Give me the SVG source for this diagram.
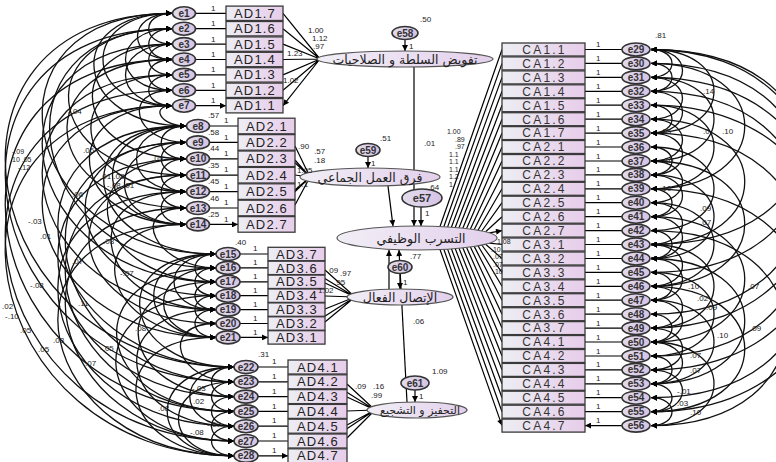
<svg xmlns="http://www.w3.org/2000/svg" width="776" height="462" viewBox="0 0 776 462">
<defs>
<linearGradient id="gb" x1="0" y1="0" x2="1" y2="0"><stop offset="0" stop-color="#ededf3"/><stop offset="1" stop-color="#e7cdea"/></linearGradient>
<linearGradient id="gl" x1="0" y1="0" x2="1" y2="0"><stop offset="0" stop-color="#f1eef6"/><stop offset="1" stop-color="#e3d0ec"/></linearGradient>
<linearGradient id="ge" x1="0" y1="0" x2="1" y2="0"><stop offset="0" stop-color="#e2dcec"/><stop offset="1" stop-color="#d6c3e4"/></linearGradient>
<marker id="ah" viewBox="0 0 10 10" refX="10" refY="5" markerWidth="9" markerHeight="6" markerUnits="userSpaceOnUse" orient="auto"><path d="M0,0 L10,5 L0,10 z" fill="#000"/></marker>
<marker id="ahs" viewBox="0 0 10 10" refX="10" refY="5" markerWidth="9" markerHeight="6" markerUnits="userSpaceOnUse" orient="auto-start-reverse"><path d="M0,0 L10,5 L0,10 z" fill="#000"/></marker>
<style>
.box{fill:url(#gb);stroke:#3a3a3a;stroke-width:1.3}
.bt{font-family:"Liberation Sans",Arial,sans-serif;font-size:13px;fill:#222;text-anchor:middle;letter-spacing:1.2px}
.ct{font-family:"Liberation Sans",Arial,sans-serif;font-size:12px;fill:#333;text-anchor:middle;letter-spacing:2.2px}
.err{fill:url(#ge);stroke:#333;stroke-width:1.6}
.et{font-family:"Liberation Sans",Arial,sans-serif;font-size:10px;font-weight:bold;fill:#333;text-anchor:middle}
.lat{fill:url(#gl);stroke:#555;stroke-width:1.2}
.lt{font-family:"DejaVu Sans",sans-serif;font-size:12.5px;fill:#222;text-anchor:middle}
.ln{stroke:#000;stroke-width:1.2;fill:none;marker-end:url(#ah)}
.arc{stroke:#111;stroke-width:1.3;fill:none;marker-start:url(#ahs);marker-end:url(#ah)}
.n{font-family:"Liberation Sans",Arial,sans-serif;font-size:8px;fill:#222}
.s{font-size:7px}
</style>
</defs>
<rect width="776" height="462" fill="#fff"/>
<g id="connectors">
<g id="left-arcs">
<path class="arc" d="M172 13.3C141 13.3 141 44.1 172 44.1"/>
<path class="arc" d="M172 28.7C141 28.7 141 59.5 172 59.5"/>
<path class="arc" d="M172 44.1C141 44.1 141 74.9 172 74.9"/>
<path class="arc" d="M172 59.5C141 59.5 141 90.3 172 90.3"/>
<path class="arc" d="M172 74.9C141 74.9 141 105.7 172 105.7"/>
<path class="arc" d="M172 13.3C126 13.3 126 59.5 172 59.5"/>
<path class="arc" d="M172 28.7C110 28.7 110 90.3 172 90.3"/>
<path class="arc" d="M172 13.3C80 13.3 80 105.7 172 105.7"/>
<path class="arc" d="M172 44.1C110 44.1 110 105.7 172 105.7"/>
<path class="arc" d="M186 126C153 126 153 158.8 186 158.8"/>
<path class="arc" d="M186 142.4C153 142.4 153 175.2 186 175.2"/>
<path class="arc" d="M186 158.8C153 158.8 153 191.6 186 191.6"/>
<path class="arc" d="M186 175.2C153 175.2 153 208 186 208"/>
<path class="arc" d="M186 191.6C153 191.6 153 224.4 186 224.4"/>
<path class="arc" d="M186 126C120 126 120 191.6 186 191.6"/>
<path class="arc" d="M186 142.4C104 142.4 104 224.4 186 224.4"/>
<path class="arc" d="M186 126C88 126 88 224.4 186 224.4"/>
<path class="arc" d="M216 254C188 254 188 281.8 216 281.8"/>
<path class="arc" d="M216 267.9C188 267.9 188 295.7 216 295.7"/>
<path class="arc" d="M216 281.8C188 281.8 188 309.6 216 309.6"/>
<path class="arc" d="M216 295.7C188 295.7 188 323.5 216 323.5"/>
<path class="arc" d="M216 309.6C188 309.6 188 337.4 216 337.4"/>
<path class="arc" d="M216 254C160 254 160 309.6 216 309.6"/>
<path class="arc" d="M216 267.9C146 267.9 146 337.4 216 337.4"/>
<path class="arc" d="M216 254C133 254 133 337.4 216 337.4"/>
<path class="arc" d="M234 367C204 367 204 396.6 234 396.6"/>
<path class="arc" d="M234 381.8C204 381.8 204 411.4 234 411.4"/>
<path class="arc" d="M234 396.6C204 396.6 204 426.2 234 426.2"/>
<path class="arc" d="M234 411.4C204 411.4 204 441 234 441"/>
<path class="arc" d="M234 426.2C204 426.2 204 455.8 234 455.8"/>
<path class="arc" d="M234 367C175 367 175 426.2 234 426.2"/>
<path class="arc" d="M234 381.8C160 381.8 160 455.8 234 455.8"/>
<path class="arc" d="M234 367C145 367 145 455.8 234 455.8"/>
<path class="arc" d="M172 13.3C59 13.3 73 126 186 126"/>
<path class="arc" d="M172 44.1C57 44.1 71 158.8 186 158.8"/>
<path class="arc" d="M172 74.9C55 74.9 69 191.6 186 191.6"/>
<path class="arc" d="M172 105.7C53 105.7 67 224.4 186 224.4"/>
<path class="arc" d="M172 28.7C25 28.7 39 175.2 186 175.2"/>
<path class="arc" d="M172 59.5C23 59.5 37 208 186 208"/>
<path class="arc" d="M172 90.3C120 90.3 134 142.4 186 142.4"/>
<path class="arc" d="M172 105.7C150 105.7 160 126 186 126"/>
<path class="arc" d="M186 126C58 126 88 254 216 254"/>
<path class="arc" d="M186 158.8C63 158.8 93 281.8 216 281.8"/>
<path class="arc" d="M186 191.6C68 191.6 98 309.6 216 309.6"/>
<path class="arc" d="M186 224.4C73 224.4 103 337.4 216 337.4"/>
<path class="arc" d="M186 142.4C33 142.4 63 295.7 216 295.7"/>
<path class="arc" d="M186 175.2C38 175.2 68 323.5 216 323.5"/>
<path class="arc" d="M186 208C126 208 156 267.9 216 267.9"/>
<path class="arc" d="M216 254C103 254 121 367 234 367"/>
<path class="arc" d="M216 281.8C101 281.8 119 396.6 234 396.6"/>
<path class="arc" d="M216 309.6C99 309.6 117 426.2 234 426.2"/>
<path class="arc" d="M216 337.4C98 337.4 116 455.8 234 455.8"/>
<path class="arc" d="M216 267.9C72 267.9 90 411.4 234 411.4"/>
<path class="arc" d="M216 295.7C71 295.7 89 441 234 441"/>
<path class="arc" d="M216 323.5C158 323.5 176 381.8 234 381.8"/>
<path class="arc" d="M172 13.3C-28 13.3 16 254 216 254"/>
<path class="arc" d="M172 44.1C-28 44.1 16 281.8 216 281.8"/>
<path class="arc" d="M172 74.9C-28 74.9 16 309.6 216 309.6"/>
<path class="arc" d="M172 105.7C-28 105.7 16 337.4 216 337.4"/>
<path class="arc" d="M186 126C-14 126 34 367 234 367"/>
<path class="arc" d="M186 158.8C-14 158.8 34 396.6 234 396.6"/>
<path class="arc" d="M186 191.6C-14 191.6 34 426.2 234 426.2"/>
<path class="arc" d="M186 224.4C-14 224.4 34 455.8 234 455.8"/>
<path class="arc" d="M172 13.3C-88 13.3 -26 367 234 367"/>
<path class="arc" d="M172 28.7C-88 28.7 -26 381.8 234 381.8"/>
<path class="arc" d="M172 59.5C-88 59.5 -26 411.4 234 411.4"/>
<path class="arc" d="M172 90.3C-88 90.3 -26 441 234 441"/>
<path class="arc" d="M172 105.7C-88 105.7 -26 455.8 234 455.8"/>
<path class="arc" d="M172 28.7C-18 28.7 26 267.9 216 267.9"/>
<path class="arc" d="M186 142.4C-4 142.4 44 381.8 234 381.8"/>
<path class="arc" d="M186 175.2C-4 175.2 44 411.4 234 411.4"/>
<path class="arc" d="M186 208C-4 208 44 441 234 441"/>
</g>
<g id="right-arcs">
<path class="arc" d="M651 49.5C679 49.5 679 77.4 651 77.4"/>
<path class="arc" d="M651 63.4C679 63.4 679 91.3 651 91.3"/>
<path class="arc" d="M651 49.5C693 49.5 693 91.3 651 91.3"/>
<path class="arc" d="M651 77.4C693 77.4 693 119.2 651 119.2"/>
<path class="arc" d="M651 91.3C693 91.3 693 133.1 651 133.1"/>
<path class="arc" d="M651 105.2C679 105.2 679 133.1 651 133.1"/>
<path class="arc" d="M651 119.2C693 119.2 693 161 651 161"/>
<path class="arc" d="M651 133.1C693 133.1 693 174.9 651 174.9"/>
<path class="arc" d="M651 147C679 147 679 174.9 651 174.9"/>
<path class="arc" d="M651 161C693 161 693 202.7 651 202.7"/>
<path class="arc" d="M651 174.9C693 174.9 693 216.7 651 216.7"/>
<path class="arc" d="M651 188.8C679 188.8 679 216.7 651 216.7"/>
<path class="arc" d="M651 202.7C693 202.7 693 244.5 651 244.5"/>
<path class="arc" d="M651 216.7C693 216.7 693 258.5 651 258.5"/>
<path class="arc" d="M651 230.6C679 230.6 679 258.5 651 258.5"/>
<path class="arc" d="M651 244.5C693 244.5 693 286.3 651 286.3"/>
<path class="arc" d="M651 258.5C693 258.5 693 300.2 651 300.2"/>
<path class="arc" d="M651 272.4C679 272.4 679 300.2 651 300.2"/>
<path class="arc" d="M651 286.3C693 286.3 693 328.1 651 328.1"/>
<path class="arc" d="M651 300.2C693 300.2 693 342 651 342"/>
<path class="arc" d="M651 314.2C679 314.2 679 342 651 342"/>
<path class="arc" d="M651 328.1C693 328.1 693 369.9 651 369.9"/>
<path class="arc" d="M651 342C693 342 693 383.8 651 383.8"/>
<path class="arc" d="M651 356C679 356 679 383.8 651 383.8"/>
<path class="arc" d="M651 369.9C693 369.9 693 411.7 651 411.7"/>
<path class="arc" d="M651 383.8C679 383.8 679 411.7 651 411.7"/>
<path class="arc" d="M651 397.7C679 397.7 679 425.6 651 425.6"/>
<path class="arc" d="M651 49.5C735 49.5 735 133.1 651 133.1"/>
<path class="arc" d="M651 77.4C735 77.4 735 161 651 161"/>
<path class="arc" d="M651 105.2C735 105.2 735 188.8 651 188.8"/>
<path class="arc" d="M651 147C735 147 735 230.6 651 230.6"/>
<path class="arc" d="M651 174.9C735 174.9 735 258.5 651 258.5"/>
<path class="arc" d="M651 202.7C735 202.7 735 286.3 651 286.3"/>
<path class="arc" d="M651 244.5C735 244.5 735 328.1 651 328.1"/>
<path class="arc" d="M651 272.4C735 272.4 735 356 651 356"/>
<path class="arc" d="M651 300.2C735 300.2 735 383.8 651 383.8"/>
<path class="arc" d="M651 342C735 342 735 425.6 651 425.6"/>
<path class="arc" d="M651 63.4C776 63.4 776 188.8 651 188.8"/>
<path class="arc" d="M651 119.2C776 119.2 776 244.5 651 244.5"/>
<path class="arc" d="M651 161C776 161 776 286.3 651 286.3"/>
<path class="arc" d="M651 216.7C776 216.7 776 342 651 342"/>
<path class="arc" d="M651 258.5C776 258.5 776 383.8 651 383.8"/>
<path class="arc" d="M651 286.3C776 286.3 776 411.7 651 411.7"/>
<path class="arc" d="M651 49.5C851 49.5 851 244.5 651 244.5"/>
<path class="arc" d="M651 63.4C851 63.4 851 272.4 651 272.4"/>
<path class="arc" d="M651 91.3C851 91.3 851 314.2 651 314.2"/>
<path class="arc" d="M651 49.5C871 49.5 871 328.1 651 328.1"/>
<path class="arc" d="M651 133.1C851 133.1 851 356 651 356"/>
<path class="arc" d="M651 188.8C851 188.8 851 397.7 651 397.7"/>
<path class="arc" d="M651 77.4C881 77.4 881 369.9 651 369.9"/>
<path class="arc" d="M651 230.6C831 230.6 831 425.6 651 425.6"/>
<path class="arc" d="M651 105.2C891 105.2 891 411.7 651 411.7"/>
</g>
<g id="error-paths">
<path class="ln" d="M196 13.3H226M196 28.7H226M196 44.1H226M196 59.5H226M196 74.9H226M196 90.3H226M196 105.7H226"/>
<path class="ln" d="M210 126H238M210 142.4H238M210 158.8H238M210 175.2H238M210 191.6H238M210 208H238M210 224.4H238"/>
<path class="ln" d="M240 254H268M240 267.9H268M240 281.8H268M240 295.7H268M240 309.6H268M240 323.5H268M240 337.4H268"/>
<path class="ln" d="M258 367H288M258 381.8H288M258 396.6H288M258 411.4H288M258 426.2H288M258 441H288M258 455.8H288"/>
<path class="ln" d="M622 49.5H585M622 63.4H585M622 77.4H585M622 91.3H585M622 105.2H585M622 119.2H585M622 133.1H585M622 147H585M622 161H585M622 174.9H585M622 188.8H585M622 202.7H585M622 216.7H585M622 230.6H585M622 244.5H585M622 258.5H585M622 272.4H585M622 286.3H585M622 300.2H585M622 314.2H585M622 328.1H585M622 342H585M622 356H585M622 369.9H585M622 383.8H585M622 397.7H585M622 411.7H585M622 425.6H585"/>
</g>
<g id="loadings">
<path class="ln" d="M320 59L283 13.3M320 59L283 28.7M320 59L283 44.1M320 59L283 59.5M320 59L283 74.9M320 59L283 90.3M320 59L283 105.7"/>
<path class="ln" d="M310 177L268 137M310 177L295 146M310 177L295 160M310 177L295 175M310 177L295 190M310 177L295 205M310 177L268 218"/>
<path class="ln" d="M355 297L298 262M355 297L325 270M355 297L325 283M355 297L325 296M355 297L325 309M355 297L325 322M355 297L300 332"/>
<path class="ln" d="M375 410L318 374M375 410L347 384M375 410L347 397M375 410L347 411M375 410L347 425M375 410L347 438M375 410L318 448"/>
<path class="ln" d="M440 226.5L502 49.5M443.8 226.7L502 63.4M447.6 226.9L502 77.4M451.4 227.2L502 91.3M455.2 227.5L502 105.2M459 227.8L502 119.2M462.8 228.2L502 133.1M466.6 228.6L502 147M470.4 229.1L502 161M474.2 229.6L502 174.9M478 230.2L502 188.8M481.8 231L502 202.7M485.6 231.8L502 216.7M489.4 232.9L502 230.6"/>
<path class="ln" d="M489.4 243.1L502 244.5M485.6 244.2L502 258.5M481.8 245L502 272.4M478 245.8L502 286.3M474.2 246.4L502 300.2M470.4 246.9L502 314.2M466.6 247.4L502 328.1M462.8 247.8L502 342M459 248.2L502 356M455.2 248.5L502 369.9M451.4 248.8L502 383.8M447.6 249.1L502 397.7M443.8 249.3L502 411.7M440 249.5L502 425.6"/>
</g>
<g id="structural">
<path class="ln" d="M405 39.5L405 51"/>
<path class="ln" d="M368 156.5L368 168"/>
<path class="ln" d="M414 67L414 226"/>
<path class="ln" d="M388 186L393 226"/>
<path class="ln" d="M421 207L421 226"/>
<path class="ln" d="M400 273.5L400 289"/>
<path class="ln" d="M389 289L389 250"/>
<path class="ln" d="M407 402L399 250"/>
<path class="ln" d="M415 390L415 402"/>
</g>
</g>
<g id="latents">
<g id="L_tafwid"><ellipse class="lat" cx="405" cy="59" rx="88" ry="8"/><text class="lt" x="405" y="63.5">تفويض السلطة و الصلاحيات</text></g>
<g id="L_fariq"><ellipse class="lat" cx="370" cy="177" rx="70" ry="9"/><text class="lt" x="370" y="181.5">فرق العمل الجماعي</text></g>
<g id="L_tasarrub"><ellipse class="lat" cx="417" cy="238" rx="80" ry="12"/><text class="lt" x="421" y="242.5">التسرب الوظيفي</text></g>
<g id="L_ittisal"><ellipse class="lat" cx="400" cy="297" rx="53" ry="8"/><text class="lt" x="400" y="301.5">الإتصال الفعال</text></g>
<g id="L_tahfiz"><ellipse class="lat" cx="417" cy="410" rx="50" ry="8"/><text class="lt" x="420" y="414" style="font-size:11px">التحفيز و التشجيع</text></g>
<g id="e58"><ellipse class="err" cx="405" cy="33" rx="13" ry="6.5"/><text class="et" x="405" y="36.5">e58</text></g>
<g id="e59"><ellipse class="err" cx="368" cy="150" rx="12" ry="6.5"/><text class="et" x="368" y="153.5">e59</text></g>
<g id="e57"><ellipse class="err" cx="422" cy="198" rx="20" ry="9"/><text class="et" x="422" y="202" style="font-size:11px">e57</text></g>
<g id="e60"><ellipse class="err" cx="400" cy="267" rx="12" ry="6.5"/><text class="et" x="400" y="270.5">e60</text></g>
<g id="e61"><ellipse class="err" cx="415" cy="383" rx="14" ry="7"/><text class="et" x="415" y="386.5">e61</text></g>
</g>
<g id="AD-items">
<g id="AD1_7"><rect class="box" x="226" y="6.1" width="57" height="14.4"/><text class="bt" x="255" y="17.8">AD1.7</text></g>
<g id="AD1_6"><rect class="box" x="226" y="21.5" width="57" height="14.4"/><text class="bt" x="255" y="33.2">AD1.6</text></g>
<g id="AD1_5"><rect class="box" x="226" y="36.9" width="57" height="14.4"/><text class="bt" x="255" y="48.6">AD1.5</text></g>
<g id="AD1_4"><rect class="box" x="226" y="52.3" width="57" height="14.4"/><text class="bt" x="255" y="64">AD1.4</text></g>
<g id="AD1_3"><rect class="box" x="226" y="67.7" width="57" height="14.4"/><text class="bt" x="255" y="79.4">AD1.3</text></g>
<g id="AD1_2"><rect class="box" x="226" y="83.1" width="57" height="14.4"/><text class="bt" x="255" y="94.8">AD1.2</text></g>
<g id="AD1_1"><rect class="box" x="226" y="98.5" width="57" height="14.4"/><text class="bt" x="255" y="110.2">AD1.1</text></g>
<g id="AD2_1"><rect class="box" x="238" y="118.2" width="57" height="15.6"/><text class="bt" x="267" y="130.5">AD2.1</text></g>
<g id="AD2_2"><rect class="box" x="238" y="134.6" width="57" height="15.6"/><text class="bt" x="267" y="146.9">AD2.2</text></g>
<g id="AD2_3"><rect class="box" x="238" y="151" width="57" height="15.6"/><text class="bt" x="267" y="163.3">AD2.3</text></g>
<g id="AD2_4"><rect class="box" x="238" y="167.4" width="57" height="15.6"/><text class="bt" x="267" y="179.7">AD2.4</text></g>
<g id="AD2_5"><rect class="box" x="238" y="183.8" width="57" height="15.6"/><text class="bt" x="267" y="196.1">AD2.5</text></g>
<g id="AD2_6"><rect class="box" x="238" y="200.2" width="57" height="15.6"/><text class="bt" x="267" y="212.5">AD2.6</text></g>
<g id="AD2_7"><rect class="box" x="238" y="216.6" width="57" height="15.6"/><text class="bt" x="267" y="228.9">AD2.7</text></g>
<g id="AD3_7"><rect class="box" x="268" y="247.3" width="57" height="13.4"/><text class="bt" x="297" y="258.6">AD3.7</text></g>
<g id="AD3_6"><rect class="box" x="268" y="261.2" width="57" height="13.4"/><text class="bt" x="297" y="272.5">AD3.6</text></g>
<g id="AD3_5"><rect class="box" x="268" y="275.1" width="57" height="13.4"/><text class="bt" x="297" y="286.4">AD3.5</text></g>
<g id="AD3_4"><rect class="box" x="268" y="289" width="57" height="13.4"/><text class="bt" x="297" y="300.3">AD3.4</text></g>
<g id="AD3_3"><rect class="box" x="268" y="302.9" width="57" height="13.4"/><text class="bt" x="297" y="314.2">AD3.3</text></g>
<g id="AD3_2"><rect class="box" x="268" y="316.8" width="57" height="13.4"/><text class="bt" x="297" y="328.1">AD3.2</text></g>
<g id="AD3_1"><rect class="box" x="268" y="330.7" width="57" height="13.4"/><text class="bt" x="297" y="342">AD3.1</text></g>
<g id="AD4_1"><rect class="box" x="288" y="360" width="59" height="14"/><text class="bt" x="318" y="371.6">AD4.1</text></g>
<g id="AD4_2"><rect class="box" x="288" y="374.8" width="59" height="14"/><text class="bt" x="318" y="386.4">AD4.2</text></g>
<g id="AD4_3"><rect class="box" x="288" y="389.6" width="59" height="14"/><text class="bt" x="318" y="401.2">AD4.3</text></g>
<g id="AD4_4"><rect class="box" x="288" y="404.4" width="59" height="14"/><text class="bt" x="318" y="416">AD4.4</text></g>
<g id="AD4_5"><rect class="box" x="288" y="419.2" width="59" height="14"/><text class="bt" x="318" y="430.8">AD4.5</text></g>
<g id="AD4_6"><rect class="box" x="288" y="434" width="59" height="14"/><text class="bt" x="318" y="445.6">AD4.6</text></g>
<g id="AD4_7"><rect class="box" x="288" y="448.8" width="59" height="14"/><text class="bt" x="318" y="460.4">AD4.7</text></g>
</g>
<g id="left-errors">
<g id="e1"><ellipse class="err" cx="184" cy="13.3" rx="11.5" ry="6.5"/><text class="et" x="184" y="16.8">e1</text></g>
<g id="e2"><ellipse class="err" cx="184" cy="28.7" rx="11.5" ry="6.5"/><text class="et" x="184" y="32.2">e2</text></g>
<g id="e3"><ellipse class="err" cx="184" cy="44.1" rx="11.5" ry="6.5"/><text class="et" x="184" y="47.6">e3</text></g>
<g id="e4"><ellipse class="err" cx="184" cy="59.5" rx="11.5" ry="6.5"/><text class="et" x="184" y="63">e4</text></g>
<g id="e5"><ellipse class="err" cx="184" cy="74.9" rx="11.5" ry="6.5"/><text class="et" x="184" y="78.4">e5</text></g>
<g id="e6"><ellipse class="err" cx="184" cy="90.3" rx="11.5" ry="6.5"/><text class="et" x="184" y="93.8">e6</text></g>
<g id="e7"><ellipse class="err" cx="184" cy="105.7" rx="11.5" ry="6.5"/><text class="et" x="184" y="109.2">e7</text></g>
<g id="e8"><ellipse class="err" cx="198" cy="126" rx="11.5" ry="6.5"/><text class="et" x="198" y="129.5">e8</text></g>
<g id="e9"><ellipse class="err" cx="198" cy="142.4" rx="11.5" ry="6.5"/><text class="et" x="198" y="145.9">e9</text></g>
<g id="e10"><ellipse class="err" cx="198" cy="158.8" rx="11.5" ry="6.5"/><text class="et" x="198" y="162.3">e10</text></g>
<g id="e11"><ellipse class="err" cx="198" cy="175.2" rx="11.5" ry="6.5"/><text class="et" x="198" y="178.7">e11</text></g>
<g id="e12"><ellipse class="err" cx="198" cy="191.6" rx="11.5" ry="6.5"/><text class="et" x="198" y="195.1">e12</text></g>
<g id="e13"><ellipse class="err" cx="198" cy="208" rx="11.5" ry="6.5"/><text class="et" x="198" y="211.5">e13</text></g>
<g id="e14"><ellipse class="err" cx="198" cy="224.4" rx="11.5" ry="6.5"/><text class="et" x="198" y="227.9">e14</text></g>
<g id="e15"><ellipse class="err" cx="228" cy="254" rx="12" ry="6.5"/><text class="et" x="228" y="257.5">e15</text></g>
<g id="e16"><ellipse class="err" cx="228" cy="267.9" rx="12" ry="6.5"/><text class="et" x="228" y="271.4">e16</text></g>
<g id="e17"><ellipse class="err" cx="228" cy="281.8" rx="12" ry="6.5"/><text class="et" x="228" y="285.3">e17</text></g>
<g id="e18"><ellipse class="err" cx="228" cy="295.7" rx="12" ry="6.5"/><text class="et" x="228" y="299.2">e18</text></g>
<g id="e19"><ellipse class="err" cx="228" cy="309.6" rx="12" ry="6.5"/><text class="et" x="228" y="313.1">e19</text></g>
<g id="e20"><ellipse class="err" cx="228" cy="323.5" rx="12" ry="6.5"/><text class="et" x="228" y="327">e20</text></g>
<g id="e21"><ellipse class="err" cx="228" cy="337.4" rx="12" ry="6.5"/><text class="et" x="228" y="340.9">e21</text></g>
<g id="e22"><ellipse class="err" cx="246" cy="367" rx="12" ry="6.5"/><text class="et" x="246" y="370.5">e22</text></g>
<g id="e23"><ellipse class="err" cx="246" cy="381.8" rx="12" ry="6.5"/><text class="et" x="246" y="385.3">e23</text></g>
<g id="e24"><ellipse class="err" cx="246" cy="396.6" rx="12" ry="6.5"/><text class="et" x="246" y="400.1">e24</text></g>
<g id="e25"><ellipse class="err" cx="246" cy="411.4" rx="12" ry="6.5"/><text class="et" x="246" y="414.9">e25</text></g>
<g id="e26"><ellipse class="err" cx="246" cy="426.2" rx="12" ry="6.5"/><text class="et" x="246" y="429.7">e26</text></g>
<g id="e27"><ellipse class="err" cx="246" cy="441" rx="12" ry="6.5"/><text class="et" x="246" y="444.5">e27</text></g>
<g id="e28"><ellipse class="err" cx="246" cy="455.8" rx="12" ry="6.5"/><text class="et" x="246" y="459.3">e28</text></g>
</g>
<g id="CA-items">
<g id="CA1_1"><rect class="box" x="502" y="43" width="83" height="13"/><text class="ct" x="544.5" y="53.8">CA1.1</text></g>
<g id="CA1_2"><rect class="box" x="502" y="56.9" width="83" height="13"/><text class="ct" x="544.5" y="67.7">CA1.2</text></g>
<g id="CA1_3"><rect class="box" x="502" y="70.9" width="83" height="13"/><text class="ct" x="544.5" y="81.7">CA1.3</text></g>
<g id="CA1_4"><rect class="box" x="502" y="84.8" width="83" height="13"/><text class="ct" x="544.5" y="95.6">CA1.4</text></g>
<g id="CA1_5"><rect class="box" x="502" y="98.7" width="83" height="13"/><text class="ct" x="544.5" y="109.5">CA1.5</text></g>
<g id="CA1_6"><rect class="box" x="502" y="112.7" width="83" height="13"/><text class="ct" x="544.5" y="123.5">CA1.6</text></g>
<g id="CA1_7"><rect class="box" x="502" y="126.6" width="83" height="13"/><text class="ct" x="544.5" y="137.4">CA1.7</text></g>
<g id="CA2_1"><rect class="box" x="502" y="140.5" width="83" height="13"/><text class="ct" x="544.5" y="151.3">CA2.1</text></g>
<g id="CA2_2"><rect class="box" x="502" y="154.5" width="83" height="13"/><text class="ct" x="544.5" y="165.3">CA2.2</text></g>
<g id="CA2_3"><rect class="box" x="502" y="168.4" width="83" height="13"/><text class="ct" x="544.5" y="179.2">CA2.3</text></g>
<g id="CA2_4"><rect class="box" x="502" y="182.3" width="83" height="13"/><text class="ct" x="544.5" y="193.1">CA2.4</text></g>
<g id="CA2_5"><rect class="box" x="502" y="196.2" width="83" height="13"/><text class="ct" x="544.5" y="207">CA2.5</text></g>
<g id="CA2_6"><rect class="box" x="502" y="210.2" width="83" height="13"/><text class="ct" x="544.5" y="221">CA2.6</text></g>
<g id="CA2_7"><rect class="box" x="502" y="224.1" width="83" height="13"/><text class="ct" x="544.5" y="234.9">CA2.7</text></g>
<g id="CA3_1"><rect class="box" x="502" y="238" width="83" height="13"/><text class="ct" x="544.5" y="248.8">CA3.1</text></g>
<g id="CA3_2"><rect class="box" x="502" y="252" width="83" height="13"/><text class="ct" x="544.5" y="262.8">CA3.2</text></g>
<g id="CA3_3"><rect class="box" x="502" y="265.9" width="83" height="13"/><text class="ct" x="544.5" y="276.7">CA3.3</text></g>
<g id="CA3_4"><rect class="box" x="502" y="279.8" width="83" height="13"/><text class="ct" x="544.5" y="290.6">CA3.4</text></g>
<g id="CA3_5"><rect class="box" x="502" y="293.7" width="83" height="13"/><text class="ct" x="544.5" y="304.5">CA3.5</text></g>
<g id="CA3_6"><rect class="box" x="502" y="307.7" width="83" height="13"/><text class="ct" x="544.5" y="318.5">CA3.6</text></g>
<g id="CA3_7"><rect class="box" x="502" y="321.6" width="83" height="13"/><text class="ct" x="544.5" y="332.4">CA3.7</text></g>
<g id="CA4_1"><rect class="box" x="502" y="335.5" width="83" height="13"/><text class="ct" x="544.5" y="346.3">CA4.1</text></g>
<g id="CA4_2"><rect class="box" x="502" y="349.5" width="83" height="13"/><text class="ct" x="544.5" y="360.3">CA4.2</text></g>
<g id="CA4_3"><rect class="box" x="502" y="363.4" width="83" height="13"/><text class="ct" x="544.5" y="374.2">CA4.3</text></g>
<g id="CA4_4"><rect class="box" x="502" y="377.3" width="83" height="13"/><text class="ct" x="544.5" y="388.1">CA4.4</text></g>
<g id="CA4_5"><rect class="box" x="502" y="391.2" width="83" height="13"/><text class="ct" x="544.5" y="402">CA4.5</text></g>
<g id="CA4_6"><rect class="box" x="502" y="405.2" width="83" height="13"/><text class="ct" x="544.5" y="416">CA4.6</text></g>
<g id="CA4_7"><rect class="box" x="502" y="419.1" width="83" height="13"/><text class="ct" x="544.5" y="429.9">CA4.7</text></g>
</g>
<g id="right-errors">
<g id="e29"><ellipse class="err" cx="636" cy="49.5" rx="14" ry="6.5"/><text class="et" x="636" y="53">e29</text></g>
<g id="e30"><ellipse class="err" cx="636" cy="63.4" rx="14" ry="6.5"/><text class="et" x="636" y="66.9">e30</text></g>
<g id="e31"><ellipse class="err" cx="636" cy="77.4" rx="14" ry="6.5"/><text class="et" x="636" y="80.9">e31</text></g>
<g id="e32"><ellipse class="err" cx="636" cy="91.3" rx="14" ry="6.5"/><text class="et" x="636" y="94.8">e32</text></g>
<g id="e33"><ellipse class="err" cx="636" cy="105.2" rx="14" ry="6.5"/><text class="et" x="636" y="108.7">e33</text></g>
<g id="e34"><ellipse class="err" cx="636" cy="119.2" rx="14" ry="6.5"/><text class="et" x="636" y="122.7">e34</text></g>
<g id="e35"><ellipse class="err" cx="636" cy="133.1" rx="14" ry="6.5"/><text class="et" x="636" y="136.6">e35</text></g>
<g id="e36"><ellipse class="err" cx="636" cy="147" rx="14" ry="6.5"/><text class="et" x="636" y="150.5">e36</text></g>
<g id="e37"><ellipse class="err" cx="636" cy="161" rx="14" ry="6.5"/><text class="et" x="636" y="164.5">e37</text></g>
<g id="e38"><ellipse class="err" cx="636" cy="174.9" rx="14" ry="6.5"/><text class="et" x="636" y="178.4">e38</text></g>
<g id="e39"><ellipse class="err" cx="636" cy="188.8" rx="14" ry="6.5"/><text class="et" x="636" y="192.3">e39</text></g>
<g id="e40"><ellipse class="err" cx="636" cy="202.7" rx="14" ry="6.5"/><text class="et" x="636" y="206.2">e40</text></g>
<g id="e41"><ellipse class="err" cx="636" cy="216.7" rx="14" ry="6.5"/><text class="et" x="636" y="220.2">e41</text></g>
<g id="e42"><ellipse class="err" cx="636" cy="230.6" rx="14" ry="6.5"/><text class="et" x="636" y="234.1">e42</text></g>
<g id="e43"><ellipse class="err" cx="636" cy="244.5" rx="14" ry="6.5"/><text class="et" x="636" y="248">e43</text></g>
<g id="e44"><ellipse class="err" cx="636" cy="258.5" rx="14" ry="6.5"/><text class="et" x="636" y="262">e44</text></g>
<g id="e45"><ellipse class="err" cx="636" cy="272.4" rx="14" ry="6.5"/><text class="et" x="636" y="275.9">e45</text></g>
<g id="e46"><ellipse class="err" cx="636" cy="286.3" rx="14" ry="6.5"/><text class="et" x="636" y="289.8">e46</text></g>
<g id="e47"><ellipse class="err" cx="636" cy="300.2" rx="14" ry="6.5"/><text class="et" x="636" y="303.7">e47</text></g>
<g id="e48"><ellipse class="err" cx="636" cy="314.2" rx="14" ry="6.5"/><text class="et" x="636" y="317.7">e48</text></g>
<g id="e49"><ellipse class="err" cx="636" cy="328.1" rx="14" ry="6.5"/><text class="et" x="636" y="331.6">e49</text></g>
<g id="e50"><ellipse class="err" cx="636" cy="342" rx="14" ry="6.5"/><text class="et" x="636" y="345.5">e50</text></g>
<g id="e51"><ellipse class="err" cx="636" cy="356" rx="14" ry="6.5"/><text class="et" x="636" y="359.5">e51</text></g>
<g id="e52"><ellipse class="err" cx="636" cy="369.9" rx="14" ry="6.5"/><text class="et" x="636" y="373.4">e52</text></g>
<g id="e53"><ellipse class="err" cx="636" cy="383.8" rx="14" ry="6.5"/><text class="et" x="636" y="387.3">e53</text></g>
<g id="e54"><ellipse class="err" cx="636" cy="397.7" rx="14" ry="6.5"/><text class="et" x="636" y="401.2">e54</text></g>
<g id="e55"><ellipse class="err" cx="636" cy="411.7" rx="14" ry="6.5"/><text class="et" x="636" y="415.2">e55</text></g>
<g id="e56"><ellipse class="err" cx="636" cy="425.6" rx="14" ry="6.5"/><text class="et" x="636" y="429.1">e56</text></g>
</g>
<g id="labels" class="n">
<text x="420" y="22">.50</text><text x="380" y="141">.51</text><text x="424" y="146">.01</text><text x="428" y="190">.64</text><text x="410" y="259">.77</text><text x="413" y="324">.06</text><text x="432" y="374">1.09</text>
<text x="409" y="49">1</text><text x="371" y="166">1</text><text x="425" y="216">1</text><text x="403" y="285">1</text><text x="419" y="399">1</text>
<g class="s"><text x="447" y="134">1.00</text><text x="455" y="141.5">.89</text><text x="455" y="149">.97</text><text x="449" y="156.5">1.1</text><text x="449" y="164">1.1</text><text x="449" y="171.5">1.1</text><text x="449" y="179">1.2</text><text x="449" y="187">1</text>
<text x="497" y="244">1.08</text><text x="491" y="251.5">.10</text><text x="493" y="259">.07</text><text x="493" y="266.5">.07</text><text x="493" y="274">.10</text>
<text x="12" y="154">-.09</text><text x="12" y="162">10 .05</text><text x="18" y="170">-.12</text></g>
<text x="308" y="33">1.00</text><text x="312" y="41">1.12</text><text x="313" y="49">.97</text><text x="287" y="56">1.23</text><text x="283" y="83">1.02</text>
<text x="298" y="149">.90</text><text x="314" y="154">.57</text><text x="314" y="163">.18</text><text x="297" y="173">1.05</text><text x="297" y="187">1.1</text>
<text x="327" y="273">.09</text><text x="340" y="276">.97</text><text x="334" y="285">.95</text><text x="318" y="293">1.02</text>
<text x="355" y="389">.09</text><text x="373" y="389">.16</text><text x="371" y="398">.99</text>
<text x="208" y="118">.57</text><text x="208" y="134.5">.58</text><text x="208" y="151">.44</text><text x="208" y="167.5">.35</text><text x="208" y="184">.45</text><text x="208" y="200.5">.46</text><text x="208" y="217">.25</text>
<text x="235" y="245">.40</text><text x="258" y="357">.31</text><text x="655" y="38">.81</text>
<text x="211" y="11">1</text><text x="211" y="26">1</text><text x="211" y="42">1</text><text x="211" y="57">1</text><text x="211" y="72">1</text><text x="211" y="88">1</text><text x="211" y="103">1</text>
<text x="224" y="123">1</text><text x="224" y="140">1</text><text x="224" y="156">1</text><text x="224" y="172">1</text><text x="224" y="189">1</text><text x="224" y="205">1</text><text x="224" y="222">1</text>
<text x="253" y="251">1</text><text x="253" y="265">1</text><text x="253" y="279">1</text><text x="253" y="293">1</text><text x="253" y="307">1</text><text x="253" y="321">1</text><text x="253" y="335">1</text>
<text x="272" y="364">1</text><text x="272" y="379">1</text><text x="272" y="394">1</text><text x="272" y="409">1</text><text x="272" y="423">1</text><text x="272" y="438">1</text><text x="272" y="453">1</text>
<text x="596" y="47">1</text><text x="596" y="61">1</text><text x="596" y="75">1</text><text x="596" y="89">1</text><text x="596" y="103">1</text><text x="596" y="117">1</text><text x="596" y="131">1</text><text x="596" y="145">1</text><text x="596" y="159">1</text><text x="596" y="172">1</text><text x="596" y="186">1</text><text x="596" y="200">1</text><text x="596" y="214">1</text><text x="596" y="228">1</text>
<text x="596" y="242">1</text><text x="596" y="256">1</text><text x="596" y="270">1</text><text x="596" y="284">1</text><text x="596" y="298">1</text><text x="596" y="312">1</text><text x="596" y="326">1</text><text x="596" y="340">1</text><text x="596" y="354">1</text><text x="596" y="367">1</text><text x="596" y="381">1</text><text x="596" y="395">1</text><text x="596" y="409">1</text><text x="596" y="423">1</text>
<text x="68" y="114">-.04</text><text x="83" y="153">.06</text><text x="152" y="161">.05</text><text x="100" y="179">.01 .08</text><text x="107" y="188">-.08 .01</text><text x="72" y="197">.06</text><text x="28" y="224">-.03</text><text x="40" y="239">.01</text><text x="103" y="244">.08</text><text x="72" y="264">.07</text><text x="120" y="276">-.07</text><text x="30" y="288">-.08</text><text x="78" y="306">.11</text><text x="2" y="309">.02</text><text x="5" y="319">-.10</text><text x="20" y="333">.05</text><text x="135" y="331">.08</text><text x="53" y="343">.03</text><text x="38" y="352">.05</text><text x="100" y="351">-.05</text><text x="85" y="366">.07</text>
<text x="192" y="391">-.03</text><text x="193" y="404">.02</text><text x="158" y="411">.08</text><text x="207" y="427">-.07</text><text x="190" y="435">-.08</text>
<text x="703" y="94">.14</text><text x="660" y="134">.05</text><text x="703" y="134">.0</text><text x="722" y="134">.10</text><text x="662" y="163">.10</text><text x="660" y="191">.10</text><text x="700" y="211">.09</text><text x="700" y="225">.07</text>
<text x="688" y="289">.10</text><text x="697" y="301">.02</text><text x="706" y="310">.09</text><text x="748" y="289">.07</text><text x="750" y="331">.09</text><text x="717" y="338">.10</text><text x="690" y="358">.07</text><text x="690" y="373">.07</text><text x="677" y="394">-.01</text><text x="677" y="406">.03</text><text x="690" y="415">.10</text>
</g>
</svg>
